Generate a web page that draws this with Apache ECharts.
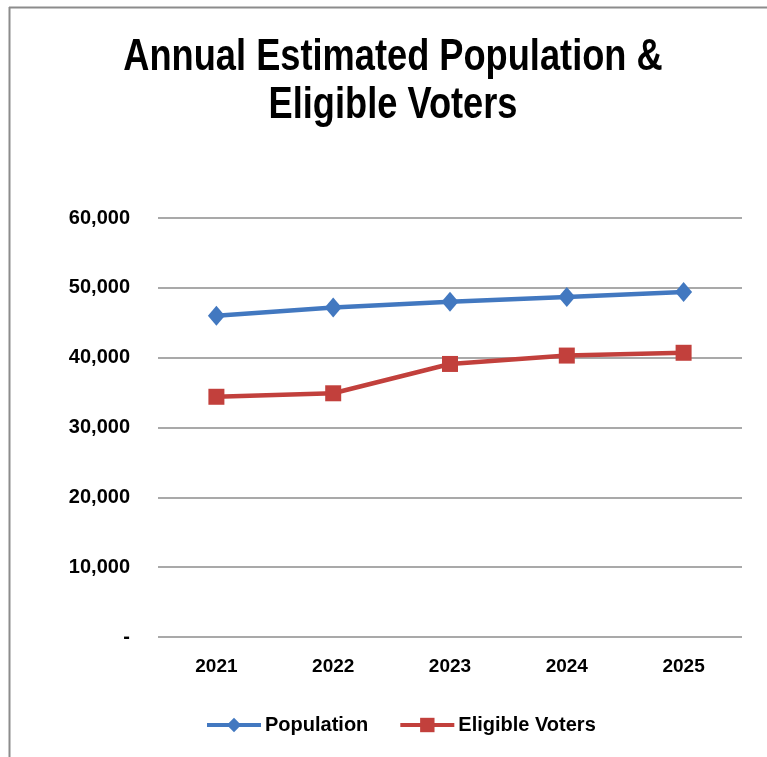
<!DOCTYPE html>
<html>
<head>
<meta charset="utf-8">
<script src="https://cdn.jsdelivr.net/npm/echarts@6/dist/echarts.min.js"></script>
<style>
html, body { margin: 0; padding: 0; background: #fff; }
#chart { width: 767px; height: 757px; }
</style>
</head>
<body>
<div id="chart"></div>
<script>
// Years on the category axis
const years = ['2021', '2022', '2023', '2024', '2025'];
// Estimated population per year
const population = [46000, 47200, 48000, 48700, 49400];
// Eligible voters per year
const eligibleVoters = [34400, 34900, 39100, 40300, 40700];
// Value axis ticks
const yTicks = [0, 10000, 20000, 30000, 40000, 50000, 60000];

const FONT = "'Liberation Sans', Arial, sans-serif";
const BLUE = '#4278C0';
const RED = '#C2403C';

const chart = echarts.init(document.getElementById('chart'), null, { renderer: 'canvas' });

chart.setOption({
  backgroundColor: '#ffffff',
  animation: false,
  graphic: [
    // frame around the chart area
    { type: 'line', shape: { x1: 9, y1: 7.5, x2: 767, y2: 7.5 }, style: { stroke: '#8c8c8c', lineWidth: 2 } },
    { type: 'line', shape: { x1: 9.5, y1: 7, x2: 9.5, y2: 757 }, style: { stroke: '#8c8c8c', lineWidth: 2 } },
    // condensed two-line heading
    {
      type: 'text',
      x: 393,
      y: 82,
      scaleX: 0.805,
      style: {
        text: 'Annual Estimated Population &\nEligible Voters',
        fontFamily: FONT,
        fontWeight: 'bold',
        fontSize: 45,
        lineHeight: 48,
        fill: '#000',
        textAlign: 'center',
        textVerticalAlign: 'middle'
      }
    }
  ],
  legend: {
    bottom: 17,
    left: 200,
    itemWidth: 54,
    itemHeight: 18,
    itemGap: 30,
    lineStyle: { width: 4 },
    textStyle: { fontFamily: FONT, fontWeight: 'bold', fontSize: 20, color: '#000', padding: [0, 0, 0, -1] },
    data: ['Population', 'Eligible Voters']
  },
  grid: { left: 158, right: 25, top: 218, bottom: 120 },
  xAxis: {
    type: 'category',
    data: years,
    boundaryGap: true,
    axisLine: { show: false },
    axisTick: { show: false },
    axisLabel: {
      margin: 20,
      fontFamily: FONT, fontWeight: 'bold', fontSize: 19, color: '#000'
    }
  },
  yAxis: {
    type: 'value',
    min: yTicks[0],
    max: yTicks[yTicks.length - 1],
    interval: yTicks[1] - yTicks[0],
    axisLine: { show: false },
    axisTick: { show: false },
    splitLine: { lineStyle: { color: '#8c8c8c', width: 1.5 } },
    axisLabel: {
      margin: 28,
      fontFamily: FONT, fontWeight: 'bold', fontSize: 20, color: '#000',
      formatter: v => v === 0 ? '-' : v.toLocaleString('en-US')
    }
  },
  series: [
    {
      name: 'Population',
      type: 'line',
      data: population,
      symbol: 'diamond',
      symbolSize: [17, 20],
      color: BLUE,
      lineStyle: { width: 4.5, color: BLUE },
      itemStyle: { color: BLUE }
    },
    {
      name: 'Eligible Voters',
      type: 'line',
      data: eligibleVoters,
      symbol: 'rect',
      symbolSize: 16,
      color: RED,
      lineStyle: { width: 4.5, color: RED },
      itemStyle: { color: RED }
    }
  ]
});
</script>
</body>
</html>
